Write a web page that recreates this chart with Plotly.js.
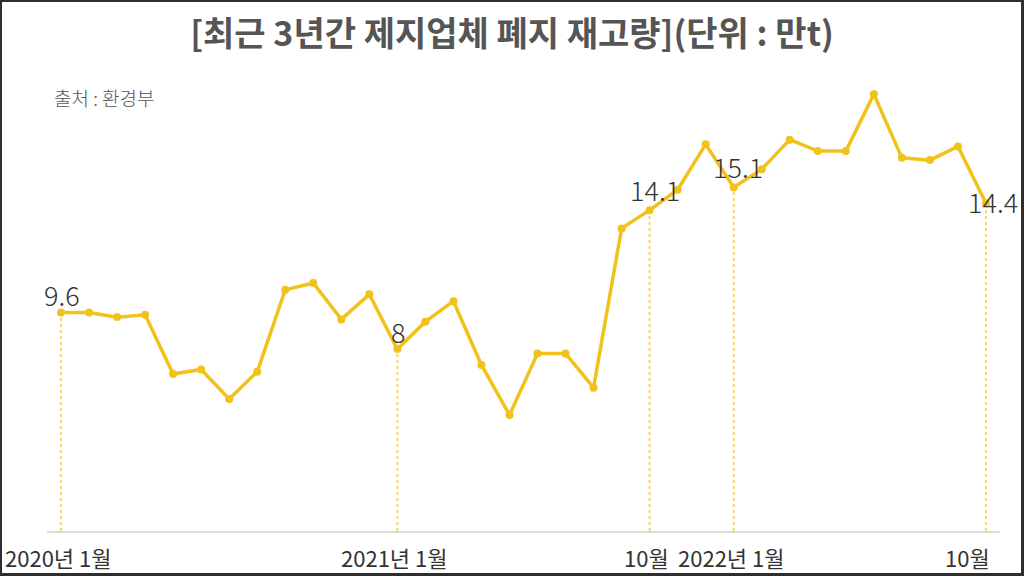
<!DOCTYPE html>
<html>
<head>
<meta charset="utf-8">
<script src="https://cdn.plot.ly/plotly-3.0.1.min.js"></script>
<style>
html,body{margin:0;padding:0;background:#fff;}
#wrap{position:relative;width:1024px;height:576px;overflow:hidden;}
#chart{width:1024px;height:576px;}
#frame{position:absolute;left:0;top:0;width:1024px;height:576px;box-sizing:border-box;border-style:solid;border-color:#2e2e2e;border-width:2px 3px 3px 2px;pointer-events:none;}
</style>
</head>
<body>
<div id="wrap"><div id="chart"></div><div id="frame"></div></div>
<script>
// Monthly waste paper stock (10k tons), Jan 2020 .. Oct 2022
const months = ["2020-01","2020-02","2020-03","2020-04","2020-05","2020-06","2020-07","2020-08","2020-09","2020-10","2020-11","2020-12",
"2021-01","2021-02","2021-03","2021-04","2021-05","2021-06","2021-07","2021-08","2021-09","2021-10","2021-11","2021-12",
"2022-01","2022-02","2022-03","2022-04","2022-05","2022-06","2022-07","2022-08","2022-09","2022-10"];
const stock = [9.6,9.6,9.4,9.5,6.9,7.1,5.8,7.0,10.6,10.9,9.3,10.4,
8.0,9.2,10.1,7.3,5.1,7.8,7.8,6.3,13.3,14.1,15.0,17.0,
15.1,15.9,17.2,16.7,16.7,19.2,16.4,16.3,16.9,14.4];
// Highlighted months (value labels + dotted drop lines)
const highlightIdx = [0,12,21,24,33];
const highlightText = ["9.6","8","14.1","15.1","14.4"];
// Tick labels
const tickIdx = [0,12,21,24,33];
const tickText = ["2020년 1월","2021년 1월","10월","2022년 1월","10월"];
const titleText = "[최근 3년간 제지업체 폐지 재고량](단위 : 만t)";
const sourceText = "출처 : 환경부";

const xIdx = months.map((m,i)=>i);
const lineColor = "#F1C21B";
const dropColor = "#F5D66E";
const FONT = "'Noto Sans CJK KR', 'Noto Sans', sans-serif";

const traces = [];
highlightIdx.forEach(i=>{
  traces.push({x:[xIdx[i],xIdx[i]], y:[0,stock[i]], mode:"lines", type:"scatter",
    line:{color:dropColor,width:2,dash:"dot"}, hoverinfo:"skip", showlegend:false});
});
traces.push({x:xIdx, y:stock, mode:"lines+markers", type:"scatter", text:months,
  line:{color:lineColor,width:3.5}, marker:{color:lineColor,size:8}, showlegend:false, cliponaxis:false});

const labelShift = [[1,18],[1,17],[5,21],[4,21],[7,2]];
const annotations = [];
highlightIdx.forEach((i,k)=>{
  annotations.push({x:xIdx[i], y:stock[i], xref:"x", yref:"y", text:highlightText[k], showarrow:false,
    xanchor:"center", yanchor:"middle", xshift:labelShift[k][0], yshift:labelShift[k][1],
    font:{family:FONT,size:27,color:"#333",weight:300}});
});
tickIdx.forEach((i,k)=>{
  const last = k===tickIdx.length-1;
  annotations.push({x:xIdx[i], y:0, xref:"x", yref:"paper", text:tickText[k], showarrow:false,
    xanchor:last?"right":"center", yanchor:"middle", xshift:last?6:-3, yshift:-26,
    font:{family:FONT,size:22,color:"#333"}});
});
annotations.push({x:0.005, y:0.921, xref:"paper", yref:"paper", text:sourceText, showarrow:false,
  xanchor:"left", yanchor:"middle", font:{family:FONT,size:19,color:"#555",weight:300}});

const layout = {
  width:1024, height:576,
  margin:{l:47, r:24, t:60, b:45},
  paper_bgcolor:"#fff", plot_bgcolor:"#fff",
  title:{text:titleText, x:0.5, xref:"container", y:0.94, yref:"container", xanchor:"center", yanchor:"middle",
    font:{family:FONT,size:34,color:"#555",weight:"bold"}},
  xaxis:{range:[-0.5,33.5], showgrid:false, zeroline:false, showline:true, linecolor:"#dcdcdc", linewidth:1.5,
    showticklabels:false, ticks:"", fixedrange:true},
  yaxis:{range:[0,20.7], showgrid:false, zeroline:false, showline:false, showticklabels:false, ticks:"", fixedrange:true},
  annotations:annotations,
  showlegend:false
};
Plotly.newPlot("chart", traces, layout, {displayModeBar:false, staticPlot:true});
</script>
</body>
</html>
